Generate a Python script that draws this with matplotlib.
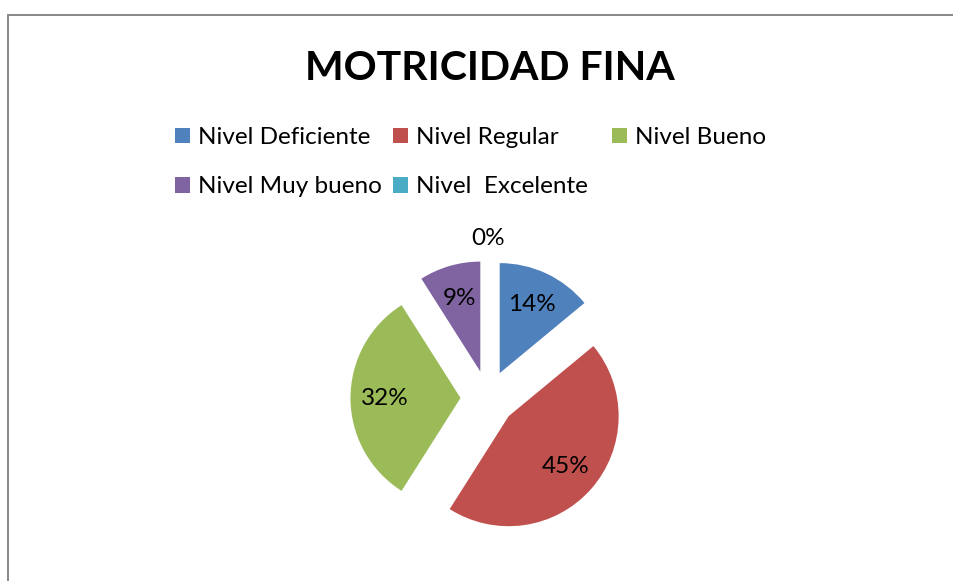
import matplotlib
matplotlib.use('Agg')

import matplotlib.pyplot as plt
from matplotlib.patches import Patch, Rectangle
import numpy as np

# Datos del gráfico
categorias = ['Nivel Deficiente', 'Nivel Regular', 'Nivel Bueno',
              'Nivel Muy bueno', 'Nivel  Excelente']
porcentajes = [14, 45, 32, 9, 0]
colores = ['#4F81BD', '#C0504D', '#9BBB59', '#8064A2', '#4BACC6']

plt.rcParams['font.family'] = ['Lato', 'DejaVu Sans']

W, H = 954, 581
fig = plt.figure(figsize=(W / 100, H / 100), dpi=100)

# marco gris del área del gráfico
fig.patches.append(Rectangle((8.5 / W, -0.1), 1.2, 1 - 14.5 / H + 0.1,
                             transform=fig.transFigure, fill=False,
                             edgecolor='#868686', linewidth=1.4,
                             clip_on=False))

fig.text(490 / W, 1 - 68 / H, 'MOTRICIDAD FINA', ha='center', va='center',
         fontsize=29.5, fontweight='bold')

# ejes del pastel: 1 unidad = 110 px
r_px = 110
cx, cy = 488, 398
lado = 3 * r_px
ax = fig.add_axes([(cx - lado / 2) / W, (H - cy - lado / 2) / H, lado / W, lado / H])

wedges, texts, autotexts = ax.pie(
    porcentajes, colors=colores, startangle=90, counterclock=False,
    explode=[0.25] * len(porcentajes), autopct='%1.0f%%', pctdistance=0.69,
    textprops={'fontsize': 17.5, 'color': 'black'})
ax.set_xlim(-1.5, 1.5)
ax.set_ylim(-1.5, 1.5)
ax.set_aspect('equal')

# etiqueta del 0% fuera del pastel
for w, t, v in zip(wedges, autotexts, porcentajes):
    if v == 0:
        ang = np.deg2rad((w.theta1 + w.theta2) / 2)
        t.set_position((1.45 * np.cos(ang), 1.45 * np.sin(ang)))

# leyenda en tres columnas (orden por filas)
handles = [Patch(facecolor=c, edgecolor='none') for c in colores]
columnas = [[0, 3], [1, 4], [2]]
x_col = [175, 393, 612]
for xc, idx in zip(x_col, columnas):
    leg = fig.legend([handles[i] for i in idx], [categorias[i] for i in idx],
                     loc='upper left', bbox_to_anchor=(xc / W, 1 - 127 / H),
                     frameon=False, fontsize=17.5, handlelength=0.6,
                     handleheight=0.6, handletextpad=0.35, labelspacing=1.17,
                     borderpad=0, borderaxespad=0)

fig.savefig('out.png', dpi=100)
plt.close(fig)
